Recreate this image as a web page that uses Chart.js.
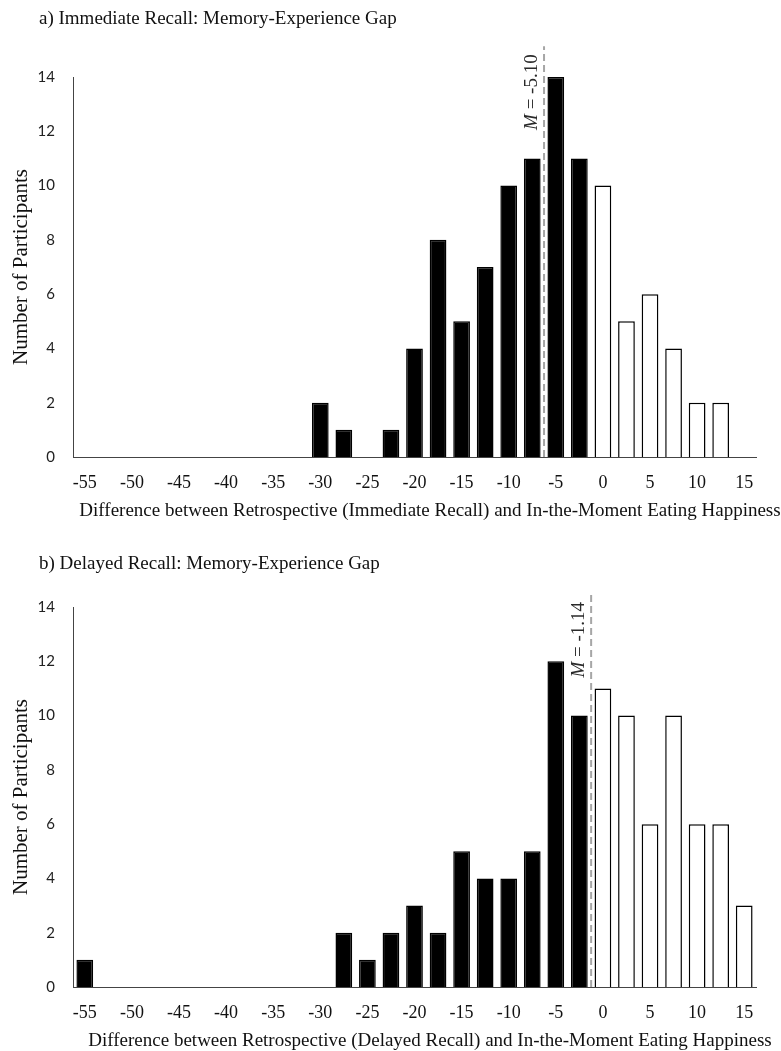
<!DOCTYPE html>
<html>
<head>
<meta charset="utf-8">
<script src="https://cdn.jsdelivr.net/npm/chart.js@4.4.1/dist/chart.umd.min.js"></script>
<style>
  body { margin: 0; background: #fff; width: 781px; height: 1051px; overflow: hidden; position: relative; }
  .panel { position: absolute; left: 0; width: 781px; }
  .panel h2, .panel .xtitle {
    position: absolute; margin: 0; font-weight: normal;
    font-family: "Liberation Serif", "Times New Roman", serif;
    color: #111; white-space: nowrap;
  }
  .panel h2 { left: 39px; font-size: 19px; line-height: 24px; }
  .panel .xtitle { left: 0; width: 860px; text-align: center; font-size: 19px; line-height: 22px; top: 499px; }
  .box { position: absolute; left: 0; top: 0; width: 781px; }
</style>
</head>
<body>

<div class="panel" style="top:0; height:525px">
  <div class="box" style="height:525px"><canvas id="chartA"></canvas></div>
  <h2 style="top:6px">a) Immediate Recall: Memory-Experience Gap</h2>
  <div class="xtitle" id="xtitleA"></div>
</div>

<div class="panel" style="top:530px; height:521px">
  <div class="box" style="height:521px"><canvas id="chartB"></canvas></div>
  <h2 style="top:21px">b) Delayed Recall: Memory-Experience Gap</h2>
  <div class="xtitle" id="xtitleB"></div>
</div>

<script>
// bins (lower edge of each 2.5-point bin)
const bins = [-55, -52.5, -50, -47.5, -45, -42.5, -40, -37.5, -35, -32.5,
              -30, -27.5, -25, -22.5, -20, -17.5, -15, -12.5, -10, -7.5,
              -5, -2.5, 0, 2.5, 5, 7.5, 10, 12.5, 15];
const xTickLabels = ["-55", "-50", "-45", "-40", "-35", "-30", "-25", "-20",
                     "-15", "-10", "-5", "0", "5", "10", "15"];
const yTicks = [0, 2, 4, 6, 8, 10, 12, 14];

// number of participants per bin
const immediateCounts = [0, 0, 0, 0, 0, 0, 0, 0, 0, 0,
                         2, 1, 0, 1, 4, 8, 5, 7, 10, 11,
                         14, 11, 10, 5, 6, 4, 2, 2, 0];
const delayedCounts = [1, 0, 0, 0, 0, 0, 0, 0, 0, 0,
                       0, 2, 1, 2, 3, 2, 5, 4, 4, 5,
                       12, 10, 11, 10, 6, 10, 6, 6, 3];

const immediateMean = -5.10;
const delayedMean = -1.14;

const xTitleA = "Difference between Retrospective (Immediate Recall) and In-the-Moment Eating Happiness";
const xTitleB = "Difference between Retrospective (Delayed Recall) and In-the-Moment Eating Happiness";

const serif = "'Liberation Serif', 'Times New Roman', serif";


// -----------------------------
// mean line + rotated "M = x" label
// -----------------------------
const meanLinePlugin = {
    id: "meanLine",
    afterDatasetsDraw(chart, args, opts) {
        const x = chart.scales.x;
        const y = chart.scales.y;
        const step = bins[1] - bins[0];
        const idx = Math.floor((opts.value - bins[0]) / step);
        const px = (x.getPixelForValue(idx) + x.getPixelForValue(idx + 1)) / 2;

        const ctx = chart.ctx;
        ctx.save();

        // label, reading bottom to top
        const yBase = y.getPixelForValue(opts.labelFrom);
        ctx.font = "italic 19px " + serif;
        const wM = ctx.measureText("M").width;
        ctx.font = "19px " + serif;
        const rest = " = " + opts.value.toFixed(2);
        const wRest = ctx.measureText(rest).width;

        ctx.translate(px - 12.5, yBase);
        ctx.rotate(-Math.PI / 2);
        ctx.fillStyle = "#2a2a2a";
        ctx.textBaseline = "middle";
        ctx.textAlign = "left";
        ctx.font = "italic 19px " + serif;
        ctx.fillText("M", 0, 0);
        ctx.font = "19px " + serif;
        ctx.fillText(rest, wM, 0);
        ctx.restore();

        const lineTop = yBase - (wM + wRest) - 8;
        ctx.save();
        ctx.strokeStyle = "#a6a6a6";
        ctx.lineWidth = 2;
        ctx.setLineDash([7, 4]);
        ctx.beginPath();
        ctx.moveTo(px, y.getPixelForValue(0));
        ctx.lineTo(px, lineTop);
        ctx.stroke();
        ctx.restore();
    }
};


function drawHistogram(canvasId, counts, mean, labelFrom, xScaleHeight) {
    const ctx = document.getElementById(canvasId);

    new Chart(ctx, {
        type: "bar",
        data: {
            labels: bins,
            datasets: [{
                data: counts,
                backgroundColor: bins.map(b => b < 0 ? "#000000" : "#ffffff"),
                borderColor: "#000000",
                borderWidth: c => (c.raw === 0 ? 0 : 1.5),
                borderSkipped: "bottom",
                barPercentage: 0.71,
                categoryPercentage: 1.0
            }]
        },
        options: {
            responsive: true,
            maintainAspectRatio: false,
            animation: false,
            layout: { padding: { top: 77, right: 25, left: 0, bottom: 0 } },
            plugins: {
                legend: { display: false },
                tooltip: { enabled: false },
                meanLine: { value: mean, labelFrom: labelFrom }
            },
            scales: {
                x: {
                    type: "category",
                    grid: { display: false, drawTicks: false },
                    border: { display: true, color: "#444", width: 1 },
                    ticks: {
                        autoSkip: false,
                        maxRotation: 0,
                        padding: 15,
                        color: "#111",
                        font: { family: serif, size: 18 },
                        callback: function (v, i) {
                            const s = String(bins[i]);
                            return xTickLabels.includes(s) ? s : "";
                        }
                    },
                    afterFit: s => { s.height = xScaleHeight; }
                },
                y: {
                    min: 0,
                    max: 14,
                    grid: { display: false, drawTicks: false },
                    border: { display: true, color: "#444", width: 1 },
                    afterBuildTicks: s => { s.ticks = yTicks.map(v => ({ value: v })); },
                    ticks: {
                        padding: 18,
                        color: "#222",
                        font: { family: "Lato, 'Open Sans', sans-serif", size: 15 }
                    },
                    title: {
                        display: true,
                        text: "Number of Participants",
                        color: "#111",
                        font: { family: serif, size: 21 },
                        padding: { top: 9, bottom: 0 }
                    },
                    afterFit: s => { s.width = 73; }
                }
            }
        },
        plugins: [meanLinePlugin]
    });
}


document.getElementById("xtitleA").textContent = xTitleA;
document.getElementById("xtitleB").textContent = xTitleB;

drawHistogram("chartA", immediateCounts, immediateMean, 12.05, 68);
drawHistogram("chartB", delayedCounts, delayedMean, 11.4, 64);
</script>
</body>
</html>
